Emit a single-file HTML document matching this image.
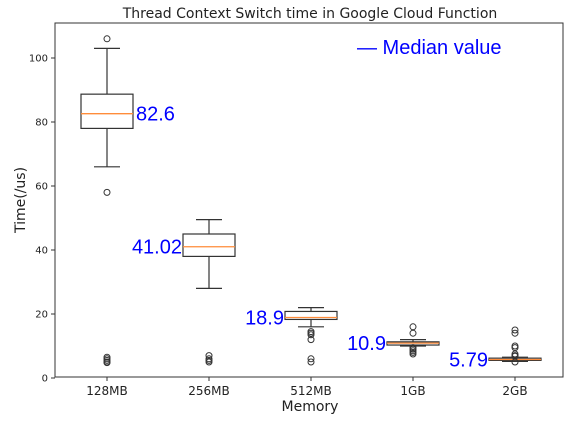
<!DOCTYPE html>
<html><head><meta charset="utf-8"><style>
body{margin:0;background:#fff;}
svg{font-family:"DejaVu Sans","Liberation Sans",sans-serif;}
</style></head><body>
<svg id="chart" width="573" height="423">
<text x="310" y="18" font-size="14" text-anchor="middle" fill="#222">Thread Context Switch time in Google Cloud Function</text>
<rect x="55" y="23" width="508" height="354" fill="none" stroke="#333"/>
<g id="yticks"></g><g id="xticks"></g><g id="boxes"></g>
<text x="310" y="411" font-size="14" text-anchor="middle" fill="#222">Memory</text>
<text transform="translate(25,200) rotate(-90)" font-size="14" text-anchor="middle" fill="#222">Time(/us)</text>
<text x="357" y="54" font-size="20" fill="#0000ff" font-family="Liberation Sans, sans-serif">— Median value</text>
</svg>
<script>
const categories=["128MB","256MB","512MB","1GB","2GB"];
const q1=[78,38,18.3,10.3,5.5];
const q3=[88.7,45,20.8,11.3,6.2];
const medians=[82.6,41.02,18.9,10.9,5.79];
const whiskLo=[66,28,16,10,5.2];
const whiskHi=[103,49.5,22,12,6.5];
const fliers=[[106,58,6.5,6,5.5,5,4.8],[7,6,5.5,5],[14.5,14,13.5,12,6,5],[16,14,9.5,9,8.5,8,7.5],[15,14,10,9.5,7.5,7,6.8,5]];
const medianLabels=["82.6","41.02","18.9","10.9","5.79"];
const yTicks=[0,20,40,60,80,100];
const NS="http://www.w3.org/2000/svg";
const y=v=>378-3.2*v;
const x=i=>107+102*i;
function mk(tag,attrs,parent){const e=document.createElementNS(NS,tag);for(const k in attrs)e.setAttribute(k,attrs[k]);parent.appendChild(e);return e;}
const yt=document.getElementById('yticks'),xt=document.getElementById('xticks'),bx=document.getElementById('boxes');
yTicks.forEach(v=>{
 const l=mk('line',{x1:51,x2:55,y1:y(v),y2:y(v),stroke:'#333'},yt);
 
 
 const t=mk('text',{x:48,y:y(v)+3.5,'font-size':10,'text-anchor':'end',fill:'#222'},yt);t.textContent=v;
 
 
});
categories.forEach((c,i)=>{
 const cx=x(i);
 const l=mk('line',{x1:cx,x2:cx,y1:377,y2:381,stroke:'#333'},xt);
 
 
 const t=mk('text',{x:cx,y:395,'font-size':12,'text-anchor':'middle',fill:'#222'},xt);t.textContent=c;
 
 
 const g=mk('g',{},bx);
 
 
 const s={stroke:'#333','stroke-width':1.2,fill:'none'};
 mk('line',{...s,x1:cx,x2:cx,y1:y(q3[i]),y2:y(whiskHi[i])},g);
 mk('line',{...s,x1:cx,x2:cx,y1:y(q1[i]),y2:y(whiskLo[i])},g);
 mk('line',{...s,x1:cx-13,x2:cx+13,y1:y(whiskHi[i]),y2:y(whiskHi[i])},g);
 mk('line',{...s,x1:cx-13,x2:cx+13,y1:y(whiskLo[i]),y2:y(whiskLo[i])},g);
 mk('rect',{...s,x:cx-26,width:52,y:y(q3[i]),height:y(q1[i])-y(q3[i])},g);
 mk('line',{x1:cx-26,x2:cx+26,y1:y(medians[i]),y2:y(medians[i]),stroke:'#ff8c3a','stroke-width':1.3},g);
 fliers[i].forEach(f=>mk('circle',{cx:cx,cy:y(f),r:3,fill:'none',stroke:'#333'},g));
 const lab=mk('text',{'font-size':20,fill:'#0000ff','font-family':'Liberation Sans, sans-serif'},bx);
 
 
 if(i===0){lab.setAttribute('x',cx+29);}else{lab.setAttribute('x',cx-27);lab.setAttribute('text-anchor','end');}
 lab.setAttribute('y',y(medians[i])+7);
 lab.textContent=medianLabels[i];
});
</script>
</body></html>
